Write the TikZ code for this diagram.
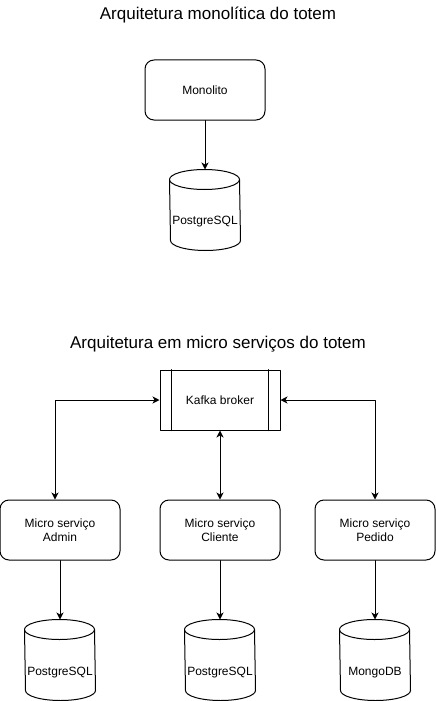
\documentclass[tikz,border=0pt]{standalone}
\usepackage{fontspec}
\setmainfont{Liberation Sans}
\usetikzlibrary{arrows.meta}

% outline of a database cylinder drawn round an empty node
\newcommand{\dbshape}[1]{%
  \draw ([yshift=-10pt]#1.north west) arc[start angle=180,end angle=0,x radius=35pt,y radius=10pt]
    -- ([yshift=10pt]#1.south east) arc[start angle=0,end angle=-180,x radius=35pt,y radius=10pt] -- cycle
    ([yshift=-10pt]#1.north west) arc[start angle=180,end angle=360,x radius=35pt,y radius=10pt];}

\begin{document}
\begin{tikzpicture}[x=1pt,y=1pt,line width=1pt,line cap=round,line join=round,
  txt/.style={font=\fontsize{12}{14}\selectfont},
  title/.style={font=\fontsize{17}{20}\selectfont},
  service/.style={txt,draw,rounded corners=9pt,minimum width=120pt,minimum height=60pt,align=center},
  broker/.style={txt,draw,minimum width=120pt,minimum height=60pt},
  dbbox/.style={minimum width=70pt,minimum height=80pt,inner sep=0pt},
  arr/.style={-{Stealth[length=7pt,width=7pt,inset=2pt]}},
  darr/.style={{Stealth[length=7pt,width=7pt,inset=2pt]}-{Stealth[length=7pt,width=7pt,inset=2pt]}}]
\useasboundingbox (0,0) rectangle (436,-701);

% monolith
\node[title] (title-mono) at (218,-15) {Arquitetura monolítica do totem};
\node[service] (mono) at (205,-90) {Monolito};
\node[dbbox] (db-mono) at (205,-210) {};
\dbshape{db-mono}
\node[txt] (db-mono-txt) at ([yshift=-52pt]db-mono.north) {PostgreSQL};
\draw[arr] (mono) -- (db-mono);

% micro services
\node[title] (title-micro) at (218,-344) {Arquitetura em micro serviços do totem};
\node[broker] (kafka) at (220,-400) {Kafka broker};
\draw ([xshift=12pt]kafka.north west) -- ([xshift=12pt]kafka.south west);
\draw ([xshift=-12pt]kafka.north east) -- ([xshift=-12pt]kafka.south east);

\node[service] (admin) at (60,-530) {Micro serviço\\Admin};
\node[service] (cliente) at (220,-530) {Micro serviço\\Cliente};
\node[service] (pedido) at (375,-530) {Micro serviço\\Pedido};

\node[dbbox] (db-admin) at (60,-660) {};
\node[dbbox] (db-cliente) at (220,-660) {};
\node[dbbox] (db-pedido) at (375,-660) {};
\dbshape{db-admin}
\dbshape{db-cliente}
\dbshape{db-pedido}
\node[txt] (db-admin-txt) at ([yshift=-53pt]db-admin.north) {PostgreSQL};
\node[txt] (db-cliente-txt) at ([yshift=-53pt]db-cliente.north) {PostgreSQL};
\node[txt] (db-pedido-txt) at ([yshift=-53pt]db-pedido.north) {MongoDB};

\draw[darr] ([xshift=-5pt]admin.north) |- (kafka.west);
\draw[darr] (kafka) -- (cliente);
\draw[darr] (pedido.north) |- (kafka.east);

\draw[arr] (admin) -- (db-admin);
\draw[arr] (cliente) -- (db-cliente);
\draw[arr] (pedido) -- (db-pedido);
\end{tikzpicture}
\end{document}
